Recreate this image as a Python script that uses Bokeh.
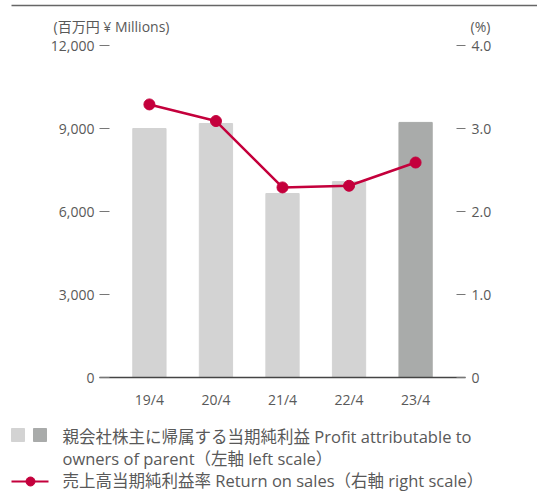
from bokeh.plotting import figure
from bokeh.layouts import column
from bokeh.models import Range1d, LinearAxis, FixedTicker
from bokeh.core.properties import value
from bokeh.embed import file_html
from bokeh.resources import INLINE

# ---- data ----
categories = ["19/4", "20/4", "21/4", "22/4", "23/4"]
profit = [9000, 9180, 6650, 7080, 9220]          # ¥ millions (left scale)
ros = [3.29, 3.09, 2.29, 2.31, 2.59]             # % (right scale)
bar_colors = ["#d3d3d3", "#d3d3d3", "#d3d3d3", "#d3d3d3", "#a9abaa"]
left_ticks = [0, 3000, 6000, 9000, 12000]
left_labels = ["0", "3,000", "6,000", "9,000", "12,000"]
right_ticks = [0, 1, 2, 3, 4]
right_labels = ["0", "1.0", "2.0", "3.0", "4.0"]
left_unit = "(百万円 ¥ Millions)"
right_unit = "(%)"
legend_texts = [
    "親会社株主に帰属する当期純利益 Profit attributable to",
    "owners of parent（左軸 left scale）",
    "売上高当期純利益率 Return on sales（右軸 right scale）",
]

FONT = "'Open Sans', 'Noto Sans CJK JP', sans-serif"
TXT = "#595959"
RED = "#c4003c"
TICK = "#777777"
W = 537

# ---- header: top rule + unit labels (page y 0..36) ----
hd = figure(width=W, height=36, x_range=Range1d(0, W), y_range=Range1d(0, 36),
            output_backend="svg", toolbar_location=None, x_axis_type=None, y_axis_type=None,
            min_border=0, outline_line_color=None, frame_align=False)
hd.line(x=[11, W], y=[31, 31], color="#666666", line_width=1.5)
hd.text(x=[53, 470], y=[10, 10], text=[left_unit, right_unit], text_baseline="middle",
        text_align="left", text_font=value(FONT), text_font_size="14px", text_color=TXT)

# ---- main chart (page y 36..412) ----
xs = list(range(len(categories)))
p = figure(width=W, height=376, x_range=Range1d(-0.75, 4.75), y_range=Range1d(0, 12000),
           output_backend="svg", toolbar_location=None, frame_align=False,
           min_border_left=99, min_border_right=72, min_border_top=9, min_border_bottom=35)
p.extra_y_ranges = {"pct": Range1d(0, 4)}
p.outline_line_color = None
p.xgrid.visible = False
p.ygrid.visible = False

p.vbar(x=xs, top=profit, width=0.5, color=bar_colors)
p.line(xs, ros, y_range_name="pct", color=RED, line_width=2.5)
p.scatter(xs, ros, y_range_name="pct", size=11, color=RED)

xa = p.xaxis[0]
xa.ticker = FixedTicker(ticks=xs)
xa.major_label_overrides = {i: c for i, c in zip(xs, categories)}
xa.axis_line_color = "#444444"
xa.axis_line_width = 1.5
xa.major_tick_line_color = None
xa.minor_tick_line_color = None
xa.major_label_standoff = 6
xa.major_label_text_font = FONT
xa.major_label_text_font_size = "14px"
xa.major_label_text_color = TXT

ya = p.yaxis[0]
ya.ticker = FixedTicker(ticks=left_ticks)
ya.major_label_overrides = {t: l for t, l in zip(left_ticks, left_labels)}
ya.axis_line_color = None
ya.major_tick_in = 10
ya.major_tick_out = 0
ya.major_tick_line_color = TICK
ya.minor_tick_line_color = None
ya.major_label_standoff = 5
ya.major_label_text_font = FONT
ya.major_label_text_font_size = "14px"
ya.major_label_text_color = TXT

ra = LinearAxis(y_range_name="pct", ticker=FixedTicker(ticks=right_ticks))
ra.major_label_overrides = {t: l for t, l in zip(right_ticks, right_labels)}
ra.axis_line_color = None
ra.major_tick_in = 9
ra.major_tick_out = 0
ra.major_tick_line_color = TICK
ra.minor_tick_line_color = None
ra.major_label_standoff = 6
ra.major_label_text_font = FONT
ra.major_label_text_font_size = "14px"
ra.major_label_text_color = TXT
p.add_layout(ra, "right")

# ---- legend (page y 412..491) ----
lg = figure(width=W, height=79, x_range=Range1d(0, W), y_range=Range1d(0, 79),
            output_backend="svg", toolbar_location=None, x_axis_type=None, y_axis_type=None,
            min_border=0, outline_line_color=None, frame_align=False)
lg.scatter(x=[17.5, 39.5], y=[56.5, 56.5], marker="square", size=13,
           color=[bar_colors[0], bar_colors[-1]])
lg.line(x=[11, 48], y=[10, 10], color=RED, line_width=2)
lg.scatter(x=[30], y=[10], size=9, color=RED)
lg.text(x=[62, 62, 62], y=[55, 33, 11], text=legend_texts, text_baseline="middle",
        text_align="left", text_font=value(FONT), text_font_size="16.5px", text_color=TXT)

layout = column(hd, p, lg, spacing=0)
open("out.html", "w").write(file_html(layout, INLINE))
